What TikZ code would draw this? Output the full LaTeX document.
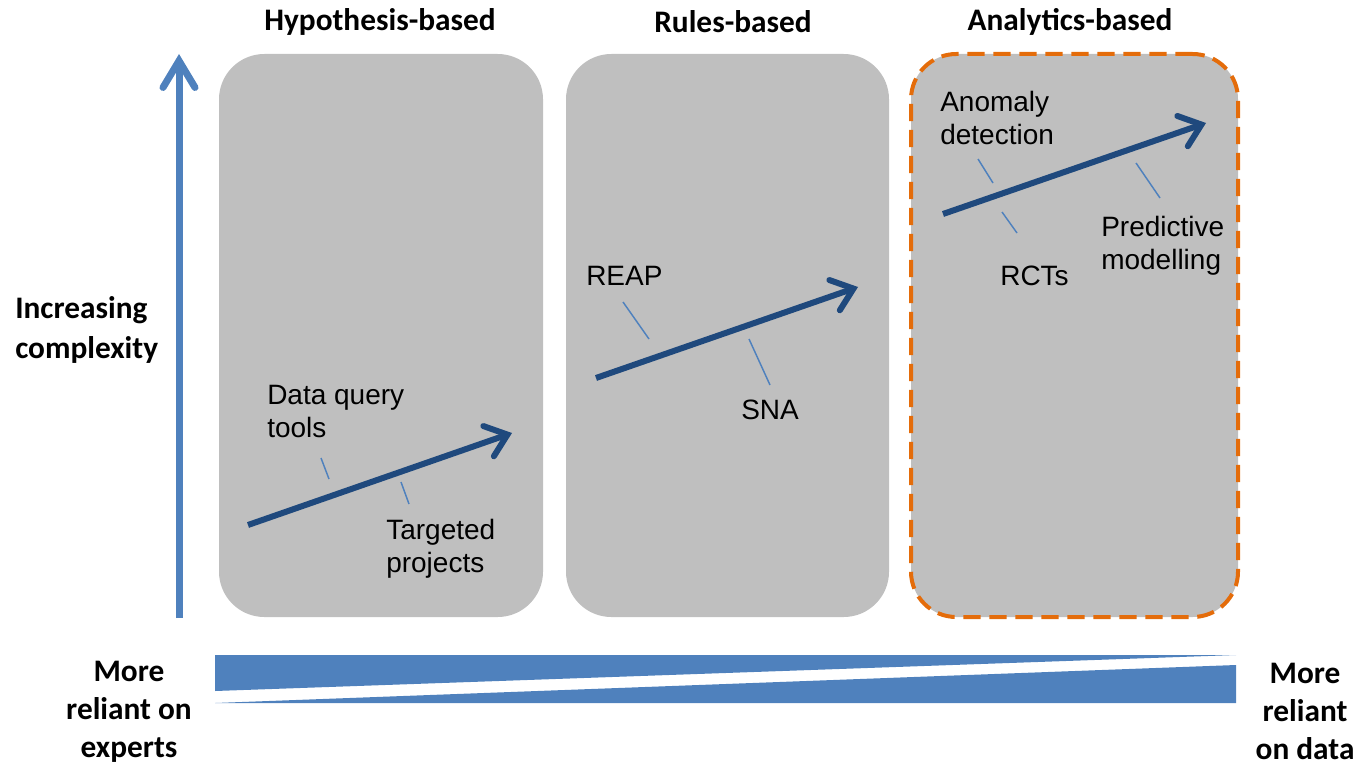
\documentclass[tikz,border=0pt]{standalone}
\usepackage{fontspec}
\setmainfont{Liberation Sans}
\newfontfamily\headfont{Carlito}
\usetikzlibrary{arrows.meta}
\definecolor{boxgray}{HTML}{BFBFBF}
\definecolor{orangeedge}{HTML}{E46C0A}
\definecolor{darkblue}{HTML}{1F497D}
\definecolor{lightblue}{HTML}{4F81BD}
\tikzset{
  panel/.style={fill=boxgray, rounded corners=34pt, inner sep=0pt, minimum height=422.25pt},
  dashedpanel/.style={panel, draw=orangeedge, line width=3pt, dash pattern=on 13pt off 6.5pt},
  heading/.style={font=\headfont\bfseries\fontsize{23.5}{29}\selectfont, inner sep=0pt},
  sidelabel/.style={font=\headfont\bfseries\fontsize{23.5}{28.5}\selectfont, inner sep=0pt, align=center},
  itemlabel/.style={font=\fontsize{21}{24.75}\selectfont, inner sep=0pt, align=left, anchor=west},
  trend/.style={draw=darkblue, line width=4.5pt, -{Straight Barb[length=15pt,width=24pt,line cap=round]}},
  leader/.style={draw=lightblue, line width=1.1pt},
  wedge/.style={fill=lightblue},
}
\begin{document}
\begin{tikzpicture}[x=0.75pt,y=-0.75pt]
\useasboundingbox (0,0) rectangle (1358,767);
% panels
\node[panel, minimum width=243pt] (p1) at (381,335.5) {};
\node[panel, minimum width=242.25pt] (p2) at (727.5,335.5) {};
\node[dashedpanel, minimum width=245.25pt] (p3) at (1074.5,335.5) {};
% headings
\node[heading] (h1) at (380,22) {Hypothesis-based};
\node[heading] (h2) at (733,22) {Rules-based};
\node[heading] (h3) at (1070,22) {Analytics-based};
% vertical axis
\coordinate (vbot) at (179,618);
\coordinate (vtop) at (179,54);
\draw[draw=lightblue, line width=5.25pt, -{Straight Barb[length=20pt,width=24pt,line cap=round]}] (vbot) -- (vtop);
\node[sidelabel, align=left, anchor=west, font=\headfont\bfseries\fontsize{23.5}{30}\selectfont] (inc) at (15,329.5) {Increasing\\complexity};
% bottom wedges
\fill[wedge] (215,655) -- (1236,655) -- (215,691) -- cycle;
\fill[wedge] (215,703) -- (1236,665) -- (1236,703) -- cycle;
\node[sidelabel] (left) at (129,712) {More\\reliant on\\experts};
\node[sidelabel] (right) at (1305,711) {More\\reliant\\on data};
% trend arrows
\coordinate (a1s) at (248,525); \coordinate (a1e) at (512,433);
\coordinate (a2s) at (596,378); \coordinate (a2e) at (858,287);
\coordinate (a3s) at (943,214); \coordinate (a3e) at (1206,123);
\draw[trend] (a1s) -- (a1e);
\draw[trend] (a2s) -- (a2e);
\draw[trend] (a3s) -- (a3e);
% labels
\node[itemlabel] (dq) at (267,411) {Data query\\tools};
\node[itemlabel] (tp) at (386,548.5) {Targeted\\projects};
\node[itemlabel] (reap) at (586,276) {REAP};
\node[itemlabel] (sna) at (741,410) {SNA};
\node[itemlabel] (ad) at (940,117.5) {Anomaly\\detection};
\node[itemlabel] (rct) at (1000,276) {RCTs};
\node[itemlabel] (pm) at (1101,246) {Predictive\\modelling};
% leaders
\draw[leader] (321,458) -- (329,479);
\draw[leader] (401,482) -- (409,504);
\draw[leader] (623,302) -- (649,339);
\draw[leader] (749,339) -- (770,385);
\draw[leader] (978,159) -- (993,183);
\draw[leader] (1002,212) -- (1017,233);
\draw[leader] (1136,163) -- (1160,198);
\end{tikzpicture}
\end{document}
